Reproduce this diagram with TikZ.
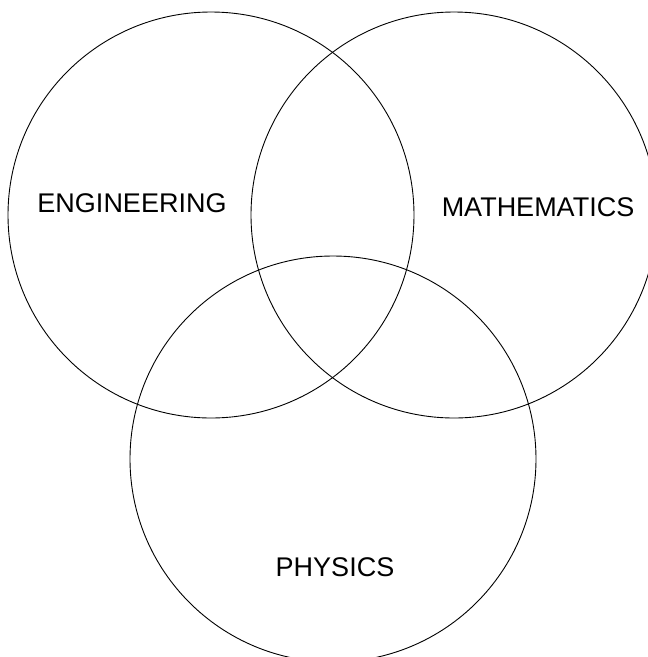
\documentclass[tikz,border=0pt]{standalone}
\usepackage{fontspec}
\setmainfont{Liberation Sans}
\tikzset{set/.style={draw,circle,minimum size=406pt,inner sep=0pt,line width=0.9pt},
  setname/.style={font=\fontsize{27}{32}\selectfont}}

\begin{document}
\begin{tikzpicture}[x=1pt,y=-1pt]
\clip (0,0) rectangle (648,657);
\node[set] (E) at (211,215) {};
\node[set] (M) at (454,215) {};
\node[set] (P) at (333,459) {};
\node[setname] (Etext) at (132,203) {ENGINEERING};
\node[setname] (Mtext) at (538,207) {MATHEMATICS};
\node[setname] (Ptext) at (335,567) {PHYSICS};
\end{tikzpicture}
\end{document}
